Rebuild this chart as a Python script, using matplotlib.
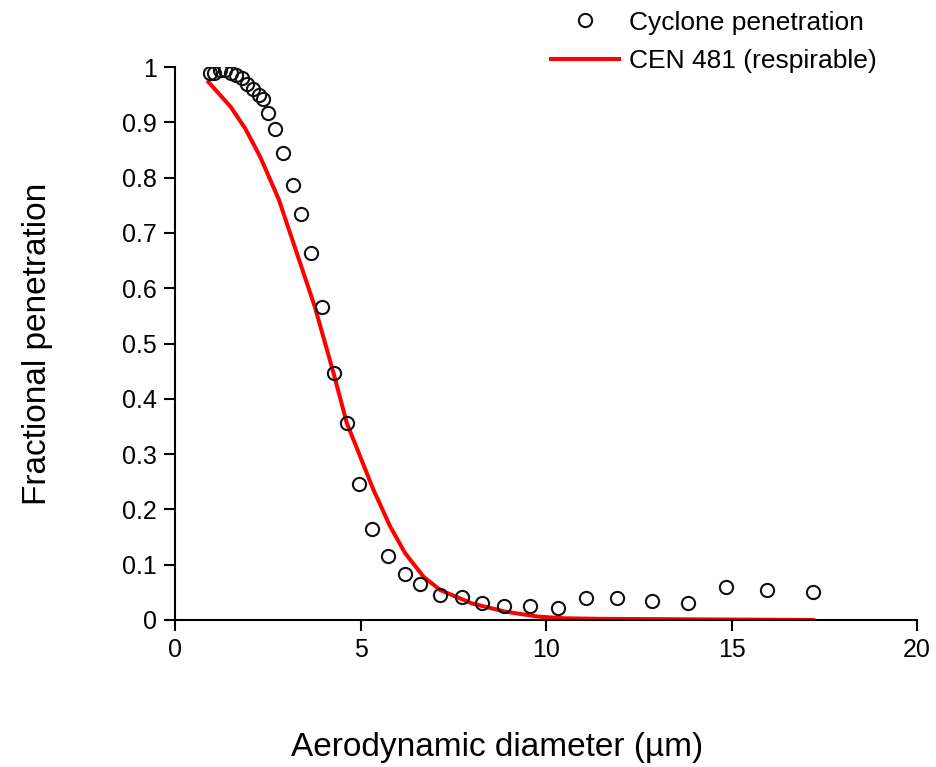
import matplotlib.pyplot as plt

plt.rcParams['font.family'] = ['Liberation Sans', 'DejaVu Sans']

# cyclone penetration measurements
diam = [0.94, 1.05, 1.2, 1.35, 1.5, 1.65, 1.8, 1.95, 2.1, 2.25, 2.38, 2.5, 2.7, 2.9,
        3.19, 3.39, 3.66, 3.95, 4.29, 4.63, 4.97, 5.31, 5.73, 6.20, 6.60, 7.14, 7.73,
        8.28, 8.88, 9.57, 10.31, 11.07, 11.9, 12.86, 13.82, 14.85, 15.95, 17.19]
pen = [0.99, 0.99, 0.995, 0.995, 0.99, 0.985, 0.98, 0.97, 0.96, 0.95, 0.942, 0.916,
       0.888, 0.844, 0.787, 0.735, 0.663, 0.566, 0.447, 0.356, 0.246, 0.164, 0.116,
       0.083, 0.065, 0.045, 0.041, 0.031, 0.026, 0.026, 0.021, 0.040, 0.040, 0.035,
       0.031, 0.059, 0.054, 0.050]

# CEN 481 respirable convention curve
cen_d = [0.9, 1.5, 1.9, 2.3, 2.8, 3.25, 3.77, 4.27, 4.63, 4.81, 5.35, 5.8, 6.2, 6.7,
         7.15, 8.0, 8.9, 9.8, 10.5, 11.5, 17.2]
cen_r = [0.973, 0.928, 0.888, 0.837, 0.76, 0.67, 0.566, 0.447, 0.356, 0.326, 0.235,
         0.169, 0.121, 0.078, 0.054, 0.030, 0.015, 0.006, 0.003, 0.002, 0.0]

fig = plt.figure(figsize=(9.37, 7.67), dpi=100)
ax = fig.add_axes([0.1868, 0.1917, 0.7919, 0.7209])

ax.plot(cen_d, cen_r, color='#ff0000', lw=2.9, label='CEN 481 (respirable)', zorder=2)
ax.plot(diam, pen, 'o', ms=9.5, mfc='none', mec='#111111', mew=1.5,
        label='Cyclone penetration', zorder=3)

ax.set_xlim(0, 20)
ax.set_ylim(0, 1)
ax.set_xticks([0, 5, 10, 15, 20])
ax.set_yticks([i / 10 for i in range(11)])
ax.set_yticklabels(['0', '0.1', '0.2', '0.3', '0.4', '0.5', '0.6', '0.7', '0.8', '0.9', '1'])

for s in ['top', 'right']:
    ax.spines[s].set_visible(False)
for s in ['left', 'bottom']:
    ax.spines[s].set_linewidth(1.5)
ax.tick_params(direction='out', length=8, width=1.5, labelsize=18, pad=5)

ax.set_xlabel('Aerodynamic diameter (µm)', fontsize=24)
ax.xaxis.set_label_coords(0.434, -0.202)
ax.set_ylabel('Fractional penetration', fontsize=24, labelpad=50)

h, l = ax.get_legend_handles_labels()
ax.legend(h[::-1], l[::-1], loc='upper left', bbox_to_anchor=(0.563, 1.017),
          bbox_transform=fig.transFigure, frameon=False, fontsize=19,
          handlelength=2.55, handletextpad=0.38, labelspacing=0.55)

fig.savefig('out.png', dpi=100)
